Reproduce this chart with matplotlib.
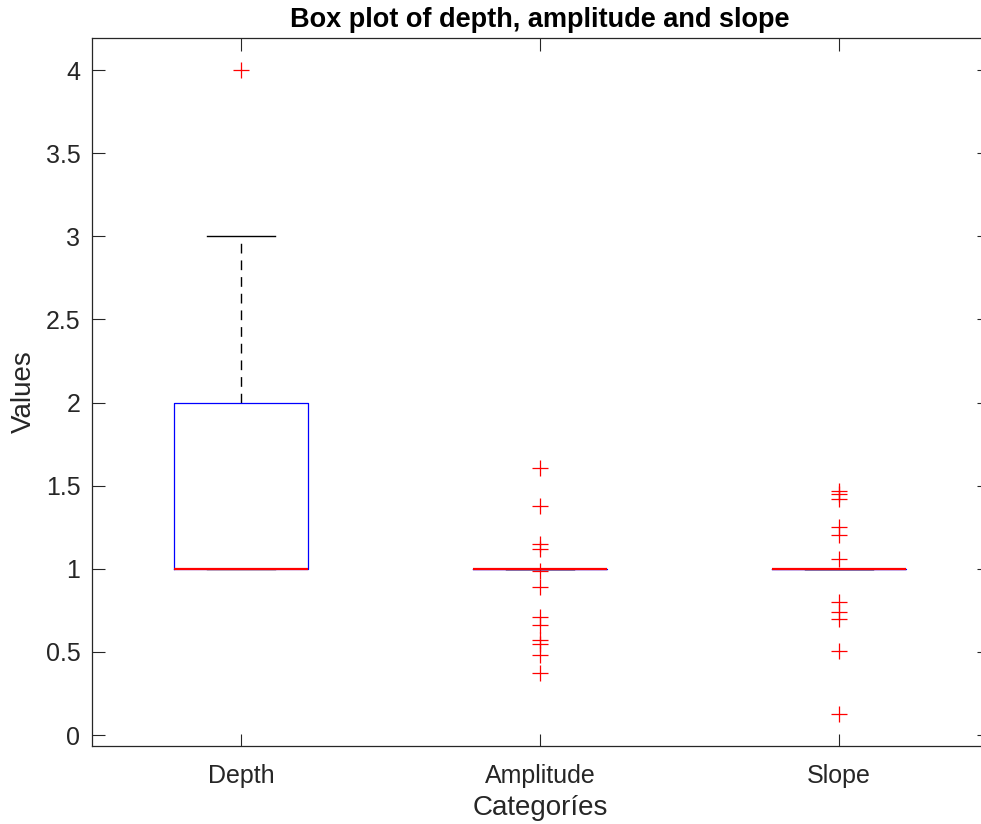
import matplotlib
matplotlib.use("Agg")
import matplotlib.pyplot as plt

# values
categories = ["Depth", "Amplitude", "Slope"]
depth = [1] * 8 + [2] * 4 + [3, 4]
amplitude_out = [1.609, 1.378, 1.146, 1.116, 0.986, 0.892, 0.708, 0.662,
                 0.570, 0.547, 0.483, 0.376]
slope_out = [1.470, 1.448, 1.418, 1.253, 1.201, 1.061, 0.802, 0.738,
             0.700, 0.505, 0.128]
amplitude = [1] * 30 + amplitude_out
slope = [1] * 30 + slope_out
yticks = [0, 0.5, 1, 1.5, 2, 2.5, 3, 3.5, 4]

plt.rcParams["font.family"] = ["Liberation Sans", "DejaVu Sans"]
grey = "#262626"

fig = plt.figure(figsize=(9.81, 8.24), dpi=100)
ax = fig.add_axes([91.5 / 981, 78 / 824, 897 / 981, 708 / 824])

bp = ax.boxplot([depth, amplitude, slope], positions=[1, 2, 3], widths=0.45,
                whis=1.5,
                boxprops=dict(color="blue", linewidth=0.9),
                medianprops=dict(color="red", linewidth=1.6),
                whiskerprops=dict(color="black", linestyle=(0, (7, 5)), linewidth=1.0),
                capprops=dict(color="black", linewidth=1.0),
                flierprops=dict(marker="+", markeredgecolor="red", markersize=12,
                                markeredgewidth=0.9, linestyle="none"))
for m in bp["medians"]:
    m.set_zorder(6)
for b in bp["boxes"]:
    b.set_zorder(3)

ax.set_xlim(0.5, 3.5)
ax.set_ylim(-0.066, 4.1925)
ax.set_yticks(yticks)
ax.set_yticklabels([f"{v:g}" for v in yticks])
ax.set_xticks([1, 2, 3])
ax.set_xticklabels(categories)

ax.tick_params(direction="in", length=9, width=0.8, colors=grey,
               labelsize=18, top=True, right=True, pad=8)
ax.tick_params(axis="x", pad=13)
for s in ax.spines.values():
    s.set_color(grey)
    s.set_linewidth(0.9)

ax.set_title("Box plot of depth, amplitude and slope", fontsize=19.5,
             fontweight="bold", color="black", pad=8)
ax.set_xlabel("Categoríes", fontsize=20, color=grey, labelpad=5)
ax.set_ylabel("Values", fontsize=20, color=grey, labelpad=6)

fig.savefig("out.png", dpi=100)
